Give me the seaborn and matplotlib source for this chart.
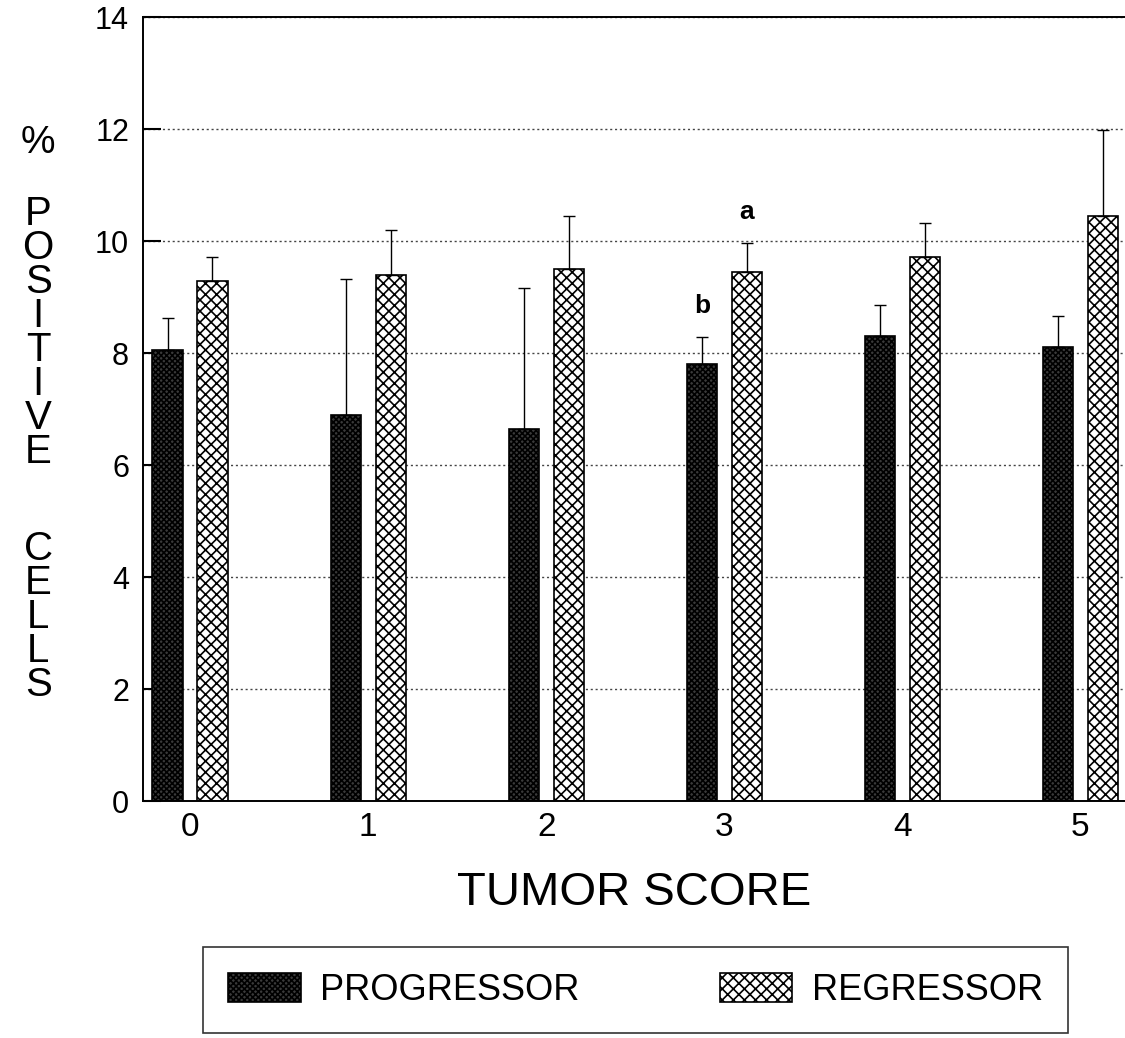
import pandas as pd
import matplotlib.pyplot as plt
import numpy as np
import seaborn as sns

scores = ['0', '1', '2', '3', '4', '5']
groups = ['PROGRESSOR', 'REGRESSOR']
progressor = [8.05, 6.9, 6.65, 7.8, 8.3, 8.1]
progressor_err = [0.57, 2.43, 2.51, 0.49, 0.56, 0.56]
regressor = [9.28, 9.4, 9.5, 9.45, 9.72, 10.45]
regressor_err = [0.43, 0.8, 0.95, 0.52, 0.6, 1.53]
yticks = [0, 2, 4, 6, 8, 10, 12, 14]

df = pd.DataFrame({
    'score': scores * 2,
    'group': [groups[0]] * 6 + [groups[1]] * 6,
    'value': progressor + regressor,
})

sns.set_style('white')
plt.rcParams['font.family'] = ['Liberation Sans', 'DejaVu Sans']
plt.rcParams['hatch.linewidth'] = 1.2
for k in ['text.color', 'axes.labelcolor', 'xtick.color', 'ytick.color']:
    plt.rcParams[k] = 'black'

fig = plt.figure(figsize=(11.25, 10.38), dpi=100)
ax = fig.add_axes([0.1271, 0.2283, 0.8729, 0.7553])

sns.barplot(data=df, x='score', y='value', hue='group', order=scores,
            hue_order=groups, palette=['#3a3a3a', 'white'], width=0.505,
            gap=0.33, edgecolor='black', linewidth=1.2, errorbar=None,
            legend=False, ax=ax)

hatches = ['xxxxxx', 'xxx']
errs = [progressor_err, regressor_err]
vals = [progressor, regressor]
for cont, h, e, v in zip(ax.containers, hatches, errs, vals):
    xs = []
    for p in cont.patches:
        p.set_hatch(h)
        xs.append(p.get_x() + p.get_width() / 2)
    ax.errorbar(xs, v, yerr=[np.zeros(len(e)), e], fmt='none', ecolor='black',
                elinewidth=1.0, capsize=4, capthick=1.0, zorder=5)

# significance letters at tumor score 3
reg3 = ax.containers[1].patches[3]
pro3 = ax.containers[0].patches[3]
ax.text(reg3.get_x() + reg3.get_width() / 2, regressor[3] + regressor_err[3] + 0.55,
        'a', ha='center', va='center', fontsize=19, fontweight='bold')
ax.text(pro3.get_x() + pro3.get_width() / 2, progressor[3] + progressor_err[3] + 0.55,
        'b', ha='center', va='center', fontsize=19, fontweight='bold')

ax.set_ylim(0, 14)
ax.set_xlim(-0.264, 5.25)
ax.set_yticks(yticks)
ax.set_yticklabels([str(t) for t in yticks], fontsize=22)
ax.tick_params(axis='y', left=True, direction='in', length=13, width=1.5, pad=10)
ax.tick_params(axis='x', length=0, labelsize=24, pad=8)
ax.yaxis.grid(True, linestyle=(0, (1.5, 2)), color='#444444', linewidth=1.0)
ax.set_axisbelow(True)
for s in ['left', 'top', 'bottom']:
    ax.spines[s].set_linewidth(1.4)
    ax.spines[s].set_color('black')
ax.spines['right'].set_visible(False)

ax.set_xlabel('TUMOR SCORE', fontsize=34, labelpad=20)
ax.set_ylabel('')

# stacked vertical y label
fig.text(0.034, 1 - 143 / 1038, '%', ha='center', va='center', fontsize=28)
fig.text(0.034, 1 - 333 / 1038, '\n'.join('POSITIVE'), ha='center', va='center',
         fontsize=29, linespacing=0.87)
fig.text(0.034, 1 - 617 / 1038, '\n'.join('CELLS'), ha='center', va='center',
         fontsize=29, linespacing=0.87)

leg = fig.legend(handles=list(ax.containers), labels=groups, loc='lower left',
                 bbox_to_anchor=(203 / 1125, 0.0048, 865 / 1125, 0.0), mode='expand',
                 ncol=2, fontsize=26, frameon=True, fancybox=False,
                 edgecolor='black', handlelength=2.0, handleheight=0.85,
                 handletextpad=0.55, columnspacing=2.1, borderpad=0.7,
                 borderaxespad=0)
leg.get_frame().set_linewidth(1.2)

fig.savefig('out.png', dpi=100)
